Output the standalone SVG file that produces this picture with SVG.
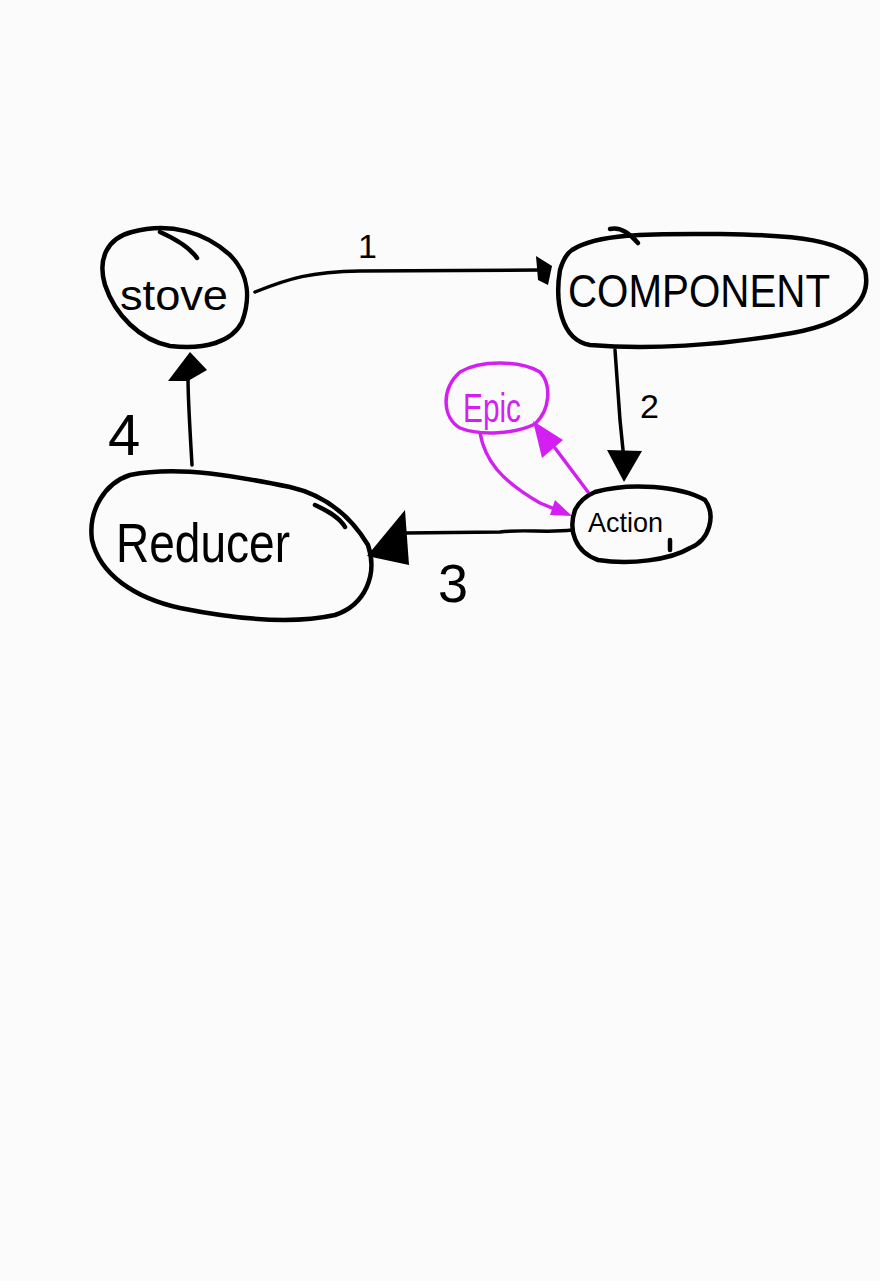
<svg xmlns="http://www.w3.org/2000/svg" width="880" height="1281" viewBox="0 0 880 1281">
<style>
.blob{fill:none;stroke:#000;stroke-width:4.5;stroke-linecap:round;stroke-linejoin:round}
.mag{fill:none;stroke:#d41ff2;stroke-width:3.5;stroke-linecap:round;stroke-linejoin:round}
.ln{fill:none;stroke:#000;stroke-width:3.5;stroke-linecap:round}
.t{font-family:"Liberation Sans","DejaVu Sans",sans-serif;fill:#000}
.tm{font-family:"Liberation Sans","DejaVu Sans",sans-serif;fill:#d41ff2}
</style>
<rect width="880" height="1281" fill="#fbfbfb"/>
<g id="connectors">
  <path class="ln" d="M255,292 C290,278 310,272 360,271 L540,270"/>
  <path d="M536,256 L552,266 L548,285 L538,280 Z" fill="#000"/>
  <path class="ln" d="M615,350 L620,420 L624,460"/>
  <path d="M607,450 L642,451 L624,482 Z" fill="#000"/>
  <path class="ln" d="M572,530 C550,533 520,529 500,532 L405,533"/>
  <path d="M367,556 L405,510 L409,565 Z" fill="#000"/>
  <path class="ln" d="M192,465 C190,430 188,400 188,378"/>
  <path d="M190,352 L207,370 L188,381 L168,381 Z" fill="#000"/>
  <path class="mag" d="M480,433 C485,460 500,480 540,503 L562,512"/>
  <path d="M555,500 L572,516 L550,515 Z" fill="#d41ff2"/>
  <path class="mag" d="M588,492 L555,448"/>
  <path d="M533,421 L563,440 L542,458 Z" fill="#d41ff2"/>
  <text class="t" x="358" y="258" font-size="34">1</text>
  <text class="t" x="640" y="418" font-size="34">2</text>
  <text class="t" x="438" y="602" font-size="54">3</text>
  <text class="t" x="108" y="455" font-size="58">4</text>
</g>
<g id="store">
  <path class="blob" d="M132,232 C170,222 205,232 230,255 C250,275 250,300 242,322 C232,342 205,350 170,346 C140,340 115,315 105,285 C97,258 108,238 132,232 Z"/>
  <path class="blob" d="M160,232 C178,240 190,248 197,258"/>
  <text class="t" x="120" y="310" font-size="42" textLength="108" lengthAdjust="spacingAndGlyphs">stove</text>
</g>
<g id="component">
  <path class="blob" d="M572,250 C600,232 660,234 720,234 C790,235 850,238 865,270 C872,300 850,325 780,335 C720,345 650,350 590,345 C560,340 555,300 560,270 C563,260 566,254 572,250 Z"/>
  <path class="blob" d="M610,229 C622,226 632,236 638,243"/>
  <text class="t" x="568" y="307" font-size="46" textLength="262" lengthAdjust="spacingAndGlyphs">COMPONENT</text>
</g>
<g id="action">
  <path class="blob" d="M595,492 C630,482 680,486 705,500 C716,515 710,540 690,548 C670,560 630,565 598,560 C575,552 568,530 575,510 C580,500 588,495 595,492 Z"/>
  <path class="blob" d="M670,540 L670,550"/>
  <text class="t" x="588" y="532" font-size="28" textLength="75" lengthAdjust="spacingAndGlyphs">Action</text>
</g>
<g id="epic">
  <path class="mag" d="M460,372 C480,360 520,360 540,372 C552,385 550,410 535,424 C515,434 480,436 460,428 C443,418 440,390 460,372 Z"/>
  <text class="tm" x="463" y="422" font-size="40" textLength="58" lengthAdjust="spacingAndGlyphs">Epic</text>
</g>
<g id="reducer">
  <path class="blob" d="M130,475 C180,465 240,477 290,487 C325,495 350,515 368,545 C378,575 365,605 335,615 C290,625 230,618 180,608 C135,598 100,575 92,540 C88,510 105,483 130,475 Z"/>
  <path class="blob" d="M315,505 C330,512 340,518 345,527"/>
  <text class="t" x="116" y="562" font-size="56" textLength="174" lengthAdjust="spacingAndGlyphs">Reducer</text>
</g>
</svg>
